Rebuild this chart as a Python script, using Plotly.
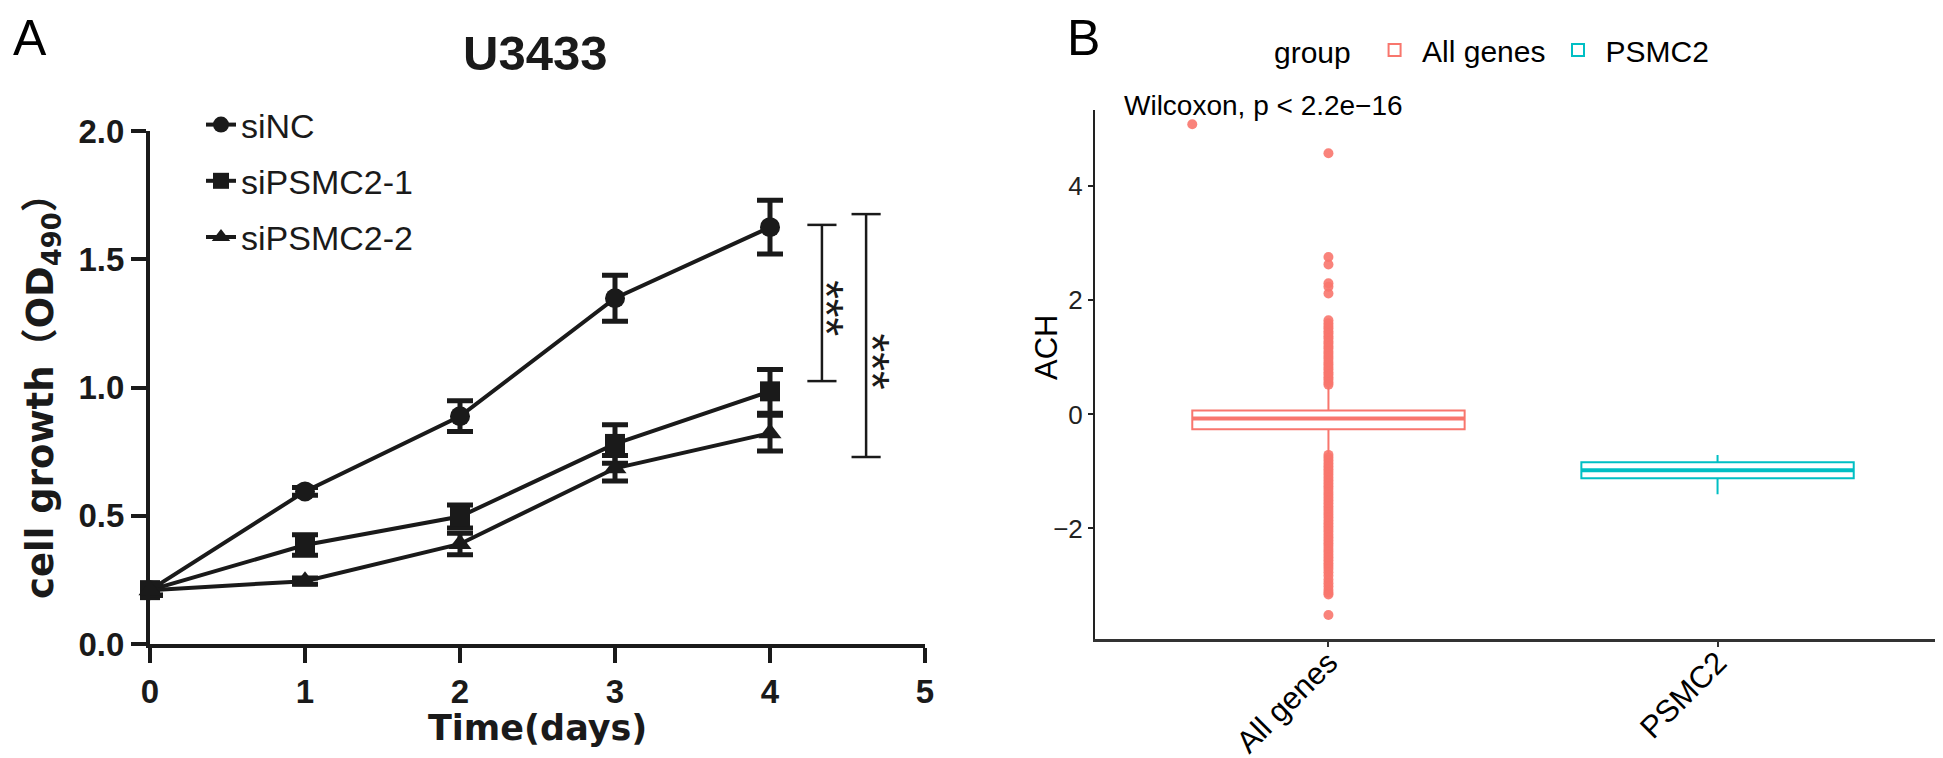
import plotly.graph_objects as go

# ---------------- Panel A data (U3433 growth curve) ----------------
days = [0, 1, 2, 3, 4]
series_names = ["siNC", "siPSMC2-1", "siPSMC2-2"]
sinc_mean = [0.21, 0.595, 0.888, 1.348, 1.625]
sinc_err = [0.02, 0.015, 0.06, 0.09, 0.105]
si1_mean = [0.21, 0.386, 0.497, 0.78, 0.985]
si1_err = [0.02, 0.04, 0.045, 0.075, 0.085]
si2_mean = [0.21, 0.245, 0.39, 0.685, 0.822]
si2_err = [0.02, 0.012, 0.042, 0.05, 0.07]
symbols = ["circle", "square", "triangle-up"]

# significance brackets (x position in days, y span), labels
bracket_x = [4.335, 4.62]
bracket_top = [1.634, 1.676]
bracket_bottom = [1.025, 0.729]
bracket_label = ["***", "***"]
bracket_label_x = [4.36, 4.66]
bracket_label_y = [1.31, 1.10]

# ---------------- Panel B data (ACH boxplot) ----------------
groups = ["All genes", "PSMC2"]
group_pos = [1, 2]
box_q1 = [-0.26, -1.12]
box_median = [-0.07, -0.98]
box_q3 = [0.07, -0.84]
box_lower = [-0.69, -1.40]
box_upper = [0.48, -0.71]
box_colors = ["#F8766D", "#00BFC4"]
box_width = 0.7

all_genes_outliers = [
    0.52, 0.56, 0.61, 0.65, 0.70, 0.74, 0.79, 0.83, 0.88, 0.92, 0.97, 1.01,
    1.06, 1.10, 1.15, 1.19, 1.24, 1.28, 1.33, 1.37, 1.42, 1.46, 1.51, 1.55,
    1.60, 1.65, 2.12, 2.24, 2.30, 2.63, 2.76, 4.58,
    -0.71, -0.76, -0.81, -0.86, -0.91, -0.96, -1.01, -1.06, -1.11, -1.16,
    -1.21, -1.26, -1.31, -1.36, -1.41, -1.46, -1.51, -1.56, -1.61, -1.66,
    -1.71, -1.76, -1.81, -1.86, -1.91, -1.96, -2.01, -2.06, -2.11, -2.16,
    -2.21, -2.26, -2.31, -2.36, -2.41, -2.46, -2.51, -2.56, -2.61, -2.66,
    -2.71, -2.77, -2.83, -2.90, -2.96, -3.02, -3.08, -3.13, -3.16, -3.52,
]
stray_point_x = [0.65]
stray_point_y = [5.09]
wilcoxon_text = "Wilcoxon, p < 2.2e\u221216"

# ---------------- layout helpers ----------------
W, H = 1943, 758
FONT = "Liberation Sans, Arial, Noto Sans CJK SC, sans-serif"
WIDE = "DejaVu Sans, Noto Sans CJK SC, sans-serif"
INK = "#1a1a1a"


def px(x):
    return x / W


def py(y):
    return 1 - y / H


fig = go.Figure()

means = [sinc_mean, si1_mean, si2_mean]
errs = [sinc_err, si1_err, si2_err]
for i, name in enumerate(series_names):
    fig.add_trace(go.Scatter(
        x=days, y=means[i],
        error_y=dict(type="data", array=errs[i], thickness=5, width=13, color=INK),
        mode="lines+markers",
        line=dict(color=INK, width=4),
        marker=dict(symbol=symbols[i], size=20, color=INK),
        name=name, legendgroup=name, legend="legend",
        cliponaxis=False, xaxis="x", yaxis="y",
    ))

# Panel B boxes
for i, g in enumerate(groups):
    fig.add_trace(go.Box(
        x=[group_pos[i]], q1=[box_q1[i]], median=[box_median[i]], q3=[box_q3[i]],
        lowerfence=[box_lower[i]], upperfence=[box_upper[i]],
        width=box_width, whiskerwidth=0, boxpoints=False,
        fillcolor="white", line=dict(color=box_colors[i], width=2),
        name=g, legend="legend2", xaxis="x2", yaxis="y2",
    ))
    # thicker median line (ggplot draws the median at double width)
    fig.add_trace(go.Scatter(
        x=[group_pos[i] - box_width / 2, group_pos[i] + box_width / 2],
        y=[box_median[i], box_median[i]], mode="lines",
        line=dict(color=box_colors[i], width=4), showlegend=False,
        hoverinfo="skip", xaxis="x2", yaxis="y2",
    ))

fig.add_trace(go.Scatter(
    x=[group_pos[0]] * len(all_genes_outliers), y=all_genes_outliers,
    mode="markers", marker=dict(size=10, color="rgba(248,118,109,0.9)"),
    showlegend=False, xaxis="x2", yaxis="y2", cliponaxis=False,
))
fig.add_trace(go.Scatter(
    x=stray_point_x, y=stray_point_y,
    mode="markers", marker=dict(size=10, color="rgba(248,118,109,0.9)"),
    showlegend=False, xaxis="x2", yaxis="y2", cliponaxis=False,
))

shapes = []
for i in range(len(bracket_x)):
    xc = bracket_x[i]
    for yv in (bracket_top[i], bracket_bottom[i]):
        shapes.append(dict(type="line", xref="x", yref="y", x0=xc - 0.094, x1=xc + 0.094,
                           y0=yv, y1=yv, line=dict(color=INK, width=2.5)))
    shapes.append(dict(type="line", xref="x", yref="y", x0=xc, x1=xc,
                       y0=bracket_bottom[i], y1=bracket_top[i], line=dict(color=INK, width=2.5)))

annotations = []
for i in range(len(bracket_label)):
    annotations.append(dict(text=bracket_label[i], xref="x", yref="y",
                            x=bracket_label_x[i], y=bracket_label_y[i], textangle=90,
                            showarrow=False, font=dict(family=FONT, size=48, color=INK)))

annotations += [
    dict(text="A", xref="paper", yref="paper", x=px(3), y=1.0, xanchor="left", yanchor="top",
         showarrow=False, font=dict(family=FONT, size=50, color="black")),
    dict(text="B", xref="paper", yref="paper", x=px(1057), y=1.0, xanchor="left", yanchor="top",
         showarrow=False, font=dict(family=FONT, size=50, color="black")),
    dict(text="U3433", xref="paper", yref="paper", x=px(527), y=py(45), xanchor="center", yanchor="middle",
         showarrow=False, font=dict(family=FONT, size=49, color=INK, weight="bold")),
    dict(text="Time(days)", xref="paper", yref="paper", x=px(529), y=py(720), xanchor="center", yanchor="middle",
         showarrow=False, font=dict(family=WIDE, size=35, color=INK, weight="bold")),
    dict(text="cell growth\uff08OD<sub>490</sub>\uff09", xref="paper", yref="paper", x=px(35), y=py(379),
         xanchor="center", yanchor="middle", textangle=-90,
         showarrow=False, font=dict(family=WIDE, size=37, color=INK, weight="bold")),
    dict(text="ACH", xref="paper", yref="paper", x=px(1038), y=py(340), xanchor="center", yanchor="middle",
         textangle=-90, showarrow=False, font=dict(family=FONT, size=31, color="black")),
    dict(text=wilcoxon_text, xref="paper", yref="paper", x=px(1114), y=py(98), xanchor="left",
         yanchor="middle", showarrow=False, font=dict(family=FONT, size=28, color="black")),
]

fig.update_layout(
    width=W, height=H,
    margin=dict(l=0, r=0, t=0, b=0, autoexpand=False),
    paper_bgcolor="white", plot_bgcolor="white",
    showlegend=True,
    xaxis=dict(domain=[px(142), px(917)], range=[0, 5], dtick=1, tick0=0, automargin=False,
               showline=True, linewidth=4, linecolor=INK, ticks="outside", ticklen=15,
               tickwidth=4, tickcolor=INK, showgrid=False, zeroline=False,
               tickfont=dict(family=FONT, size=33, color=INK, weight="bold")),
    yaxis=dict(domain=[py(636), py(123)], range=[0, 2], dtick=0.5, tick0=0, tickformat=".1f",
               automargin=False,
               showline=True, linewidth=4, linecolor=INK, ticks="outside", ticklen=15,
               tickwidth=4, tickcolor=INK, showgrid=False, zeroline=False,
               tickfont=dict(family=FONT, size=33, color=INK, weight="bold")),
    xaxis2=dict(domain=[px(1087), 1.0], range=[0.4, 2.6], tickvals=group_pos, ticktext=groups,
                automargin=False, ticklabelstandoff=-15,
                tickangle=-45, showline=True, linewidth=3, linecolor="#333333", ticks="outside",
                ticklen=5, tickwidth=1.5, tickcolor="#333333", showgrid=False, zeroline=False,
                tickfont=dict(family=FONT, size=31, color="black"), anchor="y2"),
    yaxis2=dict(domain=[py(631), py(102)], range=[-3.94, 5.34], tickvals=[-2, 0, 2, 4],
                automargin=False,
                showline=True, linewidth=2, linecolor="#222222", ticks="outside", ticklen=5,
                tickwidth=1.5, tickcolor="#222222", showgrid=False, zeroline=False,
                tickfont=dict(family=FONT, size=26, color="#222222"), anchor="x2"),
    legend=dict(x=px(193), y=py(88), xanchor="left", yanchor="top", traceorder="grouped",
                tracegroupgap=9, bgcolor="rgba(0,0,0,0)",
                font=dict(family=FONT, size=34, color=INK)),
    legend2=dict(orientation="h", x=px(1485), y=py(16), xanchor="center", yanchor="top",
                 itemwidth=45,
                 title=dict(text="group ", side="left", font=dict(family=FONT, size=30, color="black")),
                 bgcolor="rgba(0,0,0,0)", font=dict(family=FONT, size=30, color="black")),
    shapes=shapes,
    annotations=annotations,
)

fig.write_html("out.html")
